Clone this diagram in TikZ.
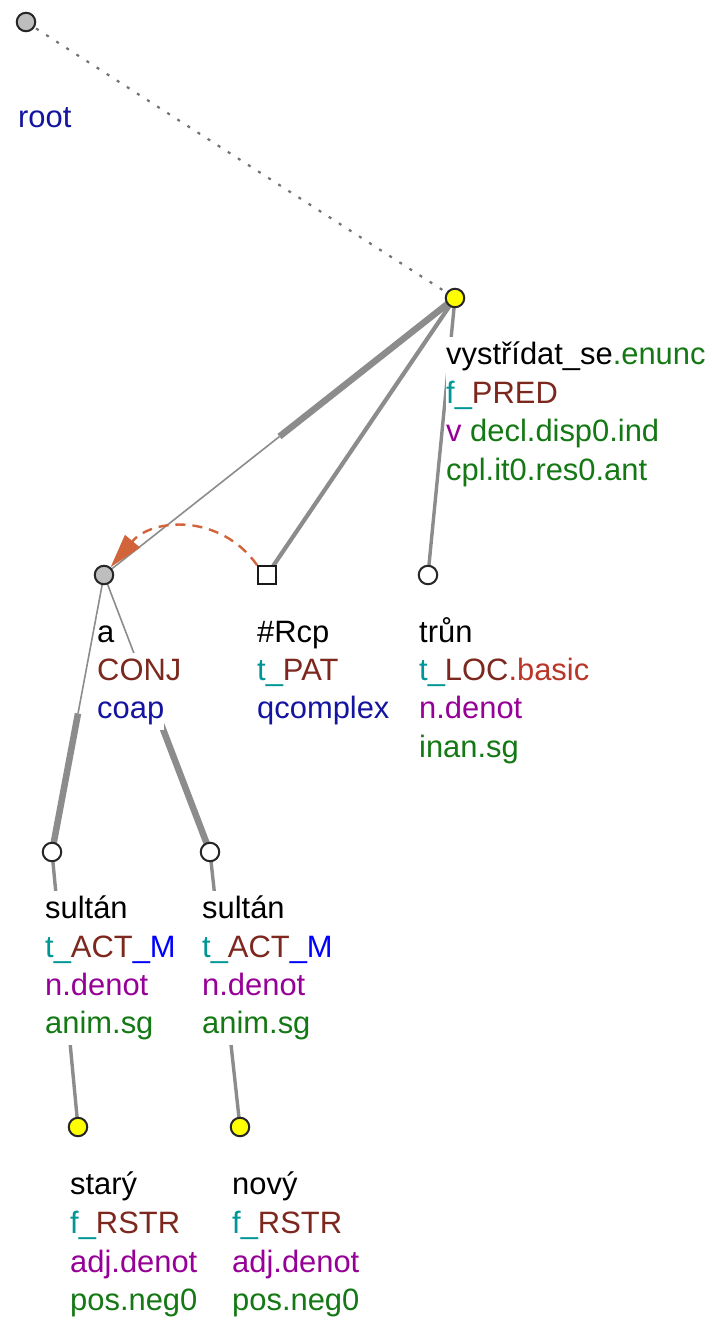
\documentclass[tikz,border=0pt]{standalone}
\usepackage{fontspec}
\setmainfont{Liberation Sans}
\usetikzlibrary{arrows.meta,calc}
\definecolor{tfunc}{RGB}{0,150,150}
\definecolor{func}{RGB}{125,40,30}
\definecolor{posc}{RGB}{150,0,150}
\definecolor{grm}{RGB}{20,120,20}
\definecolor{nav}{RGB}{20,20,160}
\definecolor{mem}{RGB}{0,0,255}
\definecolor{lbas}{RGB}{185,55,40}
\definecolor{edg}{RGB}{140,140,140}
\definecolor{arcc}{RGB}{210,100,60}
\definecolor{ngray}{RGB}{190,190,190}
\definecolor{nyel}{RGB}{255,255,0}
\newcommand\lbfont{\fontsize{30.9}{38.7}\selectfont}
\begin{document}
\begin{tikzpicture}[x=1pt,y=-1pt,
  lbl/.style={anchor=base west, fill=white, inner sep=0pt, text height=27pt, text depth=12pt, font=\lbfont},
  tnode/.style={circle, draw=black!85, line width=2pt, minimum size=18.5pt, inner sep=0pt},
  sqnode/.style={rectangle, draw=black!90, line width=1.8pt, minimum size=18pt, inner sep=0pt, fill=white},
  thinedge/.style={draw=edg, line width=1.6pt},
  thickedge/.style={draw=edg, line width=6.5pt},
  midedge/.style={draw=edg, line width=4.2pt},
  smalledge/.style={draw=edg, line width=3.4pt},
  rootedge/.style={draw=black!55, line width=2.2pt, dash pattern=on 3pt off 9pt},
  arcst/.style={draw=arcc, line width=2.4pt, dash pattern=on 10pt off 7pt, -{Triangle[length=34pt,width=19pt,fill=arcc]}}
]
\useasboundingbox (0,0) rectangle (712,1321);
\fill[white] (0,0) rectangle (712,1321);

% node coordinates
\coordinate (croot) at (26,22);
\coordinate (cpred) at (455,298);
\coordinate (ca) at (104,575);
\coordinate (crcp) at (267,575);
\coordinate (ctrun) at (428,575);
\coordinate (cs1) at (52,852);
\coordinate (cs2) at (210,852);
\coordinate (cst) at (78,1127);
\coordinate (cno) at (240,1127);

\coordinate (m1) at ($(cpred)!0.5!(ca)$);
\coordinate (m2) at ($(ca)!0.5!(cs1)$);
\coordinate (m3) at ($(ca)!0.5!(cs2)$);

% edges
\draw[rootedge] (croot) -- (cpred);
\draw[thickedge] (cpred) -- (m1);
\draw[thinedge] (m1) -- (ca);
\draw[midedge] (cpred) -- (crcp);
\draw[smalledge] (cpred) -- (ctrun);
\draw[thinedge] (ca) -- (m2);
\draw[thickedge] (m2) -- (cs1);
\draw[thinedge] (ca) -- (m3);
\draw[thickedge] (m3) -- (cs2);
\draw[smalledge] (cs1) -- (cst);
\draw[smalledge] (cs2) -- (cno);

% nodes
\node[tnode, fill=ngray] (root) at (croot) {};
\node[tnode, fill=nyel] (pred) at (cpred) {};
\node[tnode, fill=ngray] (a) at (ca) {};
\node[sqnode] (rcp) at (crcp) {};
\node[tnode, fill=white] (trun) at (ctrun) {};
\node[tnode, fill=white] (s1) at (cs1) {};
\node[tnode, fill=white] (s2) at (cs2) {};
\node[tnode, fill=nyel] (st) at (cst) {};
\node[tnode, fill=nyel] (no) at (cno) {};

% coreference arc
\draw[arcst] (rcp.north west) .. controls (220,513) and (152,518) .. (a);

% labels
\node[lbl, text=nav] (lroot) at (18,128) {root};

\node[lbl] (lp1) at (446,364) {vystřídat\_se\textcolor{grm}{.enunc}};
\node[lbl] (lp2) at (446,403) {\textcolor{tfunc}{f\_}\textcolor{func}{PRED}};
\node[lbl] (lp3) at (446,441) {\textcolor{posc}{v} \textcolor{grm}{decl.disp0.ind}};
\node[lbl, text=grm] (lp4) at (446,480) {cpl.it0.res0.ant};

\node[lbl] (la1) at (97,642) {a};
\node[lbl, text=func] (la2) at (97,680) {CONJ};
\node[lbl, text=nav] (la3) at (97,718) {coap};

\node[lbl] (lr1) at (257,642) {\#Rcp};
\node[lbl] (lr2) at (257,680) {\textcolor{tfunc}{t\_}\textcolor{func}{PAT}};
\node[lbl, text=nav] (lr3) at (257,718) {qcomplex};

\node[lbl] (lt1) at (419,642) {trůn};
\node[lbl] (lt2) at (419,680) {\textcolor{tfunc}{t\_}\textcolor{func}{LOC}\textcolor{lbas}{.basic}};
\node[lbl, text=posc] (lt3) at (419,718) {n.denot};
\node[lbl, text=grm] (lt4) at (419,757) {inan.sg};

\node[lbl] (ls11) at (45,918) {sultán};
\node[lbl] (ls12) at (45,957) {\textcolor{tfunc}{t\_}\textcolor{func}{ACT}\textcolor{mem}{\_M}};
\node[lbl, text=posc] (ls13) at (45,995) {n.denot};
\node[lbl, text=grm] (ls14) at (45,1033) {anim.sg};

\node[lbl] (ls21) at (202,918) {sultán};
\node[lbl] (ls22) at (202,957) {\textcolor{tfunc}{t\_}\textcolor{func}{ACT}\textcolor{mem}{\_M}};
\node[lbl, text=posc] (ls23) at (202,995) {n.denot};
\node[lbl, text=grm] (ls24) at (202,1033) {anim.sg};

\node[lbl] (lst1) at (70,1194) {starý};
\node[lbl] (lst2) at (70,1233) {\textcolor{tfunc}{f\_}\textcolor{func}{RSTR}};
\node[lbl, text=posc] (lst3) at (70,1272) {adj.denot};
\node[lbl, text=grm] (lst4) at (70,1310) {pos.neg0};

\node[lbl] (lno1) at (232,1194) {nový};
\node[lbl] (lno2) at (232,1233) {\textcolor{tfunc}{f\_}\textcolor{func}{RSTR}};
\node[lbl, text=posc] (lno3) at (232,1272) {adj.denot};
\node[lbl, text=grm] (lno4) at (232,1310) {pos.neg0};
\end{tikzpicture}
\end{document}
